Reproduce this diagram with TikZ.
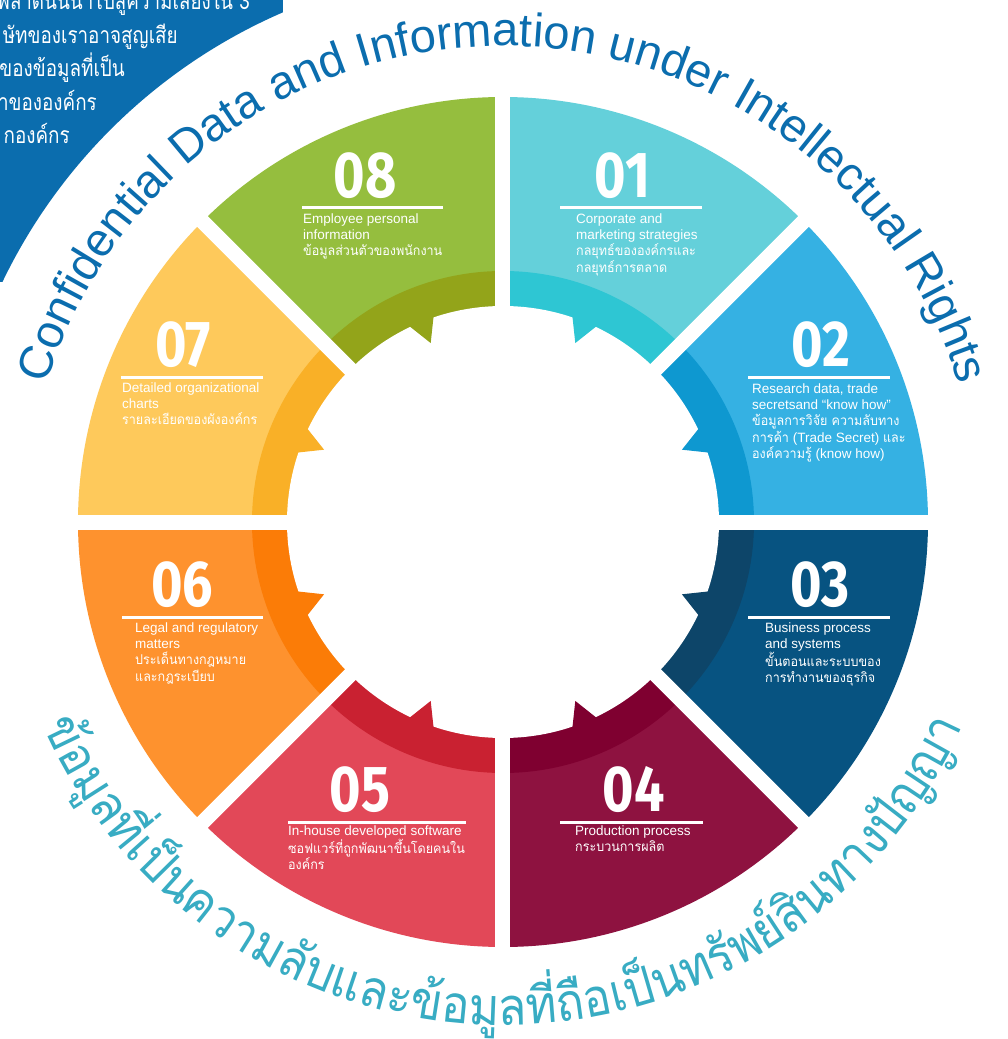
\documentclass[tikz,border=0pt]{standalone}
\usepackage{fontspec}
\setmainfont{Liberation Sans}
\newfontfamily\thaifont[Script=Thai,FakeStretch=0.93]{Loma}
\newfontfamily\arcfont[Script=Thai,FakeStretch=0.9]{Loma}
\newfontfamily\panelfont[Script=Thai,FakeStretch=0.82]{Loma}
\newfontfamily\numfont[FakeStretch=0.83]{Fira Sans}
\usetikzlibrary{decorations.text}

\definecolor{secA}{HTML}{64D0DA}
\definecolor{bandA}{HTML}{2EC6D3}
\definecolor{secB}{HTML}{35B1E3}
\definecolor{bandB}{HTML}{0E98D0}
\definecolor{secC}{HTML}{075381}
\definecolor{bandC}{HTML}{0D4569}
\definecolor{secD}{HTML}{8E1240}
\definecolor{bandD}{HTML}{7F0030}
\definecolor{secE}{HTML}{E24858}
\definecolor{bandE}{HTML}{C92131}
\definecolor{secF}{HTML}{FE922E}
\definecolor{bandF}{HTML}{FB7C07}
\definecolor{secG}{HTML}{FEC95B}
\definecolor{bandG}{HTML}{F9B027}
\definecolor{secH}{HTML}{95BE3E}
\definecolor{bandH}{HTML}{93A41A}
\definecolor{capblue}{HTML}{0B6DAE}
\definecolor{arcteal}{HTML}{38ACC3}

\newsavebox\arcbox
\newcommand\botfont{\arcfont\fontsize{52}{52}\selectfont}
\newcommand\measurearc[1]{\pgfinterruptpicture\global\setbox\arcbox=\hbox{\botfont #1}\endpgfinterruptpicture}

\tikzset{
  numlabel/.style={font=\numfont\bfseries\fontsize{65}{65}\selectfont, text=white, inner sep=0pt, anchor=base},
  desclabel/.style={font=\fontsize{13.5}{16.3}\selectfont, text=white, inner sep=0pt, anchor=north west, align=left},
  underbar/.style={white, line width=3pt},
  sidelabel/.style={font=\panelfont\fontsize{23}{23}\selectfont, text=white, inner sep=0pt, anchor=base east},
  arcletter/.style={font=\botfont, text=arcteal, inner sep=0pt, anchor=base},
}

\begin{document}
\begin{tikzpicture}[x=1pt, y=1pt, line join=round]
\clip (-503,-517) rectangle (504,522);
\fill[white] (-503,-517) rectangle (504,522);

% corner panel
\begin{scope}
\clip (-503,522) rectangle (-220,240);
\fill[capblue, even odd rule] (-700,-100) rectangle (100,700) (0,0) circle (555);
\end{scope}
\node[sidelabel] (p1) at (-253,512) {พลาดนั้นนำไปสู่ความเสี่ยงใน 3};
\node[sidelabel] (p2) at (-325,478.5) {ษัทของเราอาจสูญเสีย};
\node[sidelabel] (p3) at (-378,445) {ของข้อมูลที่เป็น};
\node[sidelabel] (p4) at (-406,411.5) {าขององค์กร};
\node[sidelabel] (p5) at (-433,378) {กองค์กร};

% wheel
\foreach \a/\main/\band in {45/secA/bandA, 0/secB/bandB, -45/secC/bandC, -90/secD/bandD, -135/secE/bandE, 180/secF/bandF, 135/secG/bandG, 90/secH/bandH}{
  \fill[\main] (0,0) -- (\a:425) arc[start angle=\a, delta angle=45, radius=425] -- cycle;
  \fill[\band] (0,0) -- (\a:251) arc[start angle=\a, delta angle=45, radius=251] -- cycle;
}
\fill[white] (0,0) circle (216);
\foreach \a/\band/\s in {45/bandA/1, 0/bandB/-1, -45/bandC/1, -90/bandD/-1, -135/bandE/1, 180/bandF/-1, 135/bandG/1, 90/bandH/-1}
  \fill[\band] ({\a+22.5+3.9*\s}:217.5) -- ({\a+22.5+0.5*\s}:193) -- ({\a+22.5-3.1*\s}:217.5) -- cycle;
\foreach \a in {0,45,...,315}
  \draw[white, line width=15pt] (0,0) -- (\a:440);

% numbers, bars and texts
\node[numlabel] (n1) at (119.5,324) {01};
\node[numlabel] (n2) at (317.5,155) {02};
\node[numlabel] (n3) at (317.5,-84) {03};
\node[numlabel] (n4) at (130.5,-289) {04};
\node[numlabel] (n5) at (-143,-289) {05};
\node[numlabel] (n6) at (-321,-84) {06};
\node[numlabel] (n7) at (-320,155) {07};
\node[numlabel] (n8) at (-138,324) {08};

\draw[underbar] (57,314) -- (199,314);
\draw[underbar] (245,144) -- (387,144);
\draw[underbar] (245,-95) -- (387,-95);
\draw[underbar] (57,-300) -- (200,-300);
\draw[underbar] (-215,-300) -- (-37,-300);
\draw[underbar] (-381,-95) -- (-240,-95);
\draw[underbar] (-382,144) -- (-240,144);
\draw[underbar] (-201,314) -- (-60,314);

\node[desclabel] (t1) at (73,308.8) {Corporate and\\marketing strategies\\{\thaifont กลยุทธ์ขององค์กรและ}\\{\thaifont กลยุทธ์การตลาด}};
\node[desclabel] (t2) at (249,138.8) {Research data, trade\\secretsand “know how”\\{\thaifont ข้อมูลการวิจัย ความลับทาง}\\{\thaifont การค้า} (Trade Secret) {\thaifont และ}\\{\thaifont องค์ความรู้} (know how)};
\node[desclabel] (t3) at (262,-100.2) {Business process\\and systems\\{\thaifont ขั้นตอนและระบบของ}\\{\thaifont การทำงานของธุรกิจ}};
\node[desclabel] (t4) at (72,-303.2) {Production process\\{\thaifont กระบวนการผลิต}};
\node[desclabel] (t5) at (-215,-303.2) {In-house developed software\\{\thaifont ซอฟแวร์ที่ถูกพัฒนาขึ้นโดยคนใน}\\{\thaifont องค์กร}};
\node[desclabel] (t6) at (-368,-100.2) {Legal and regulatory\\matters\\{\thaifont ประเด็นทางกฎหมาย}\\{\thaifont และกฎระเบียบ}};
\node[desclabel] (t7) at (-381,139.8) {Detailed organizational\\charts\\{\thaifont รายละเอียดของผังองค์กร}};
\node[desclabel] (t8) at (-200,308.8) {Employee personal\\information\\{\thaifont ข้อมูลส่วนตัวของพนักงาน}};

% ring titles
\path[decorate, decoration={text along path, text align=center, text color=capblue,
  text={|\fontsize{47}{47}\selectfont|Confidential Data and Information under Intellectual Rights}}]
  (172:476) arc[start angle=172, end angle=8, radius=476];

\measurearc{ข้อมูลที่เป็นความลับและข้อมูลที่ถือเป็นทรัพย์สินทางปัญญา}
\pgfmathsetmacro\botstart{270-0.5*\the\wd\arcbox/503*180/pi}
\xdef\arclen{0}
\foreach \c [count=\k] in {ข้,อ,มู,ล,ที่,เ,ป็,น,ค,ว,า,ม,ลั,บ,แ,ล,ะ,ข้,อ,มู,ล,ที่,ถื,อ,เ,ป็,น,ท,รั,พ,ย์,สิ,น,ท,า,ง,ปั,ญ,ญ,า}{
  \measurearc{\c}
  \pgfmathsetmacro\ang{\botstart+(\arclen+0.5*\the\wd\arcbox)/503*180/pi}
  \node[arcletter, rotate=\ang+90] (bt\k) at (\ang:503) {\c};
  \pgfmathsetmacro\nextlen{\arclen+\the\wd\arcbox}
  \xdef\arclen{\nextlen}
}
\end{tikzpicture}
\end{document}
